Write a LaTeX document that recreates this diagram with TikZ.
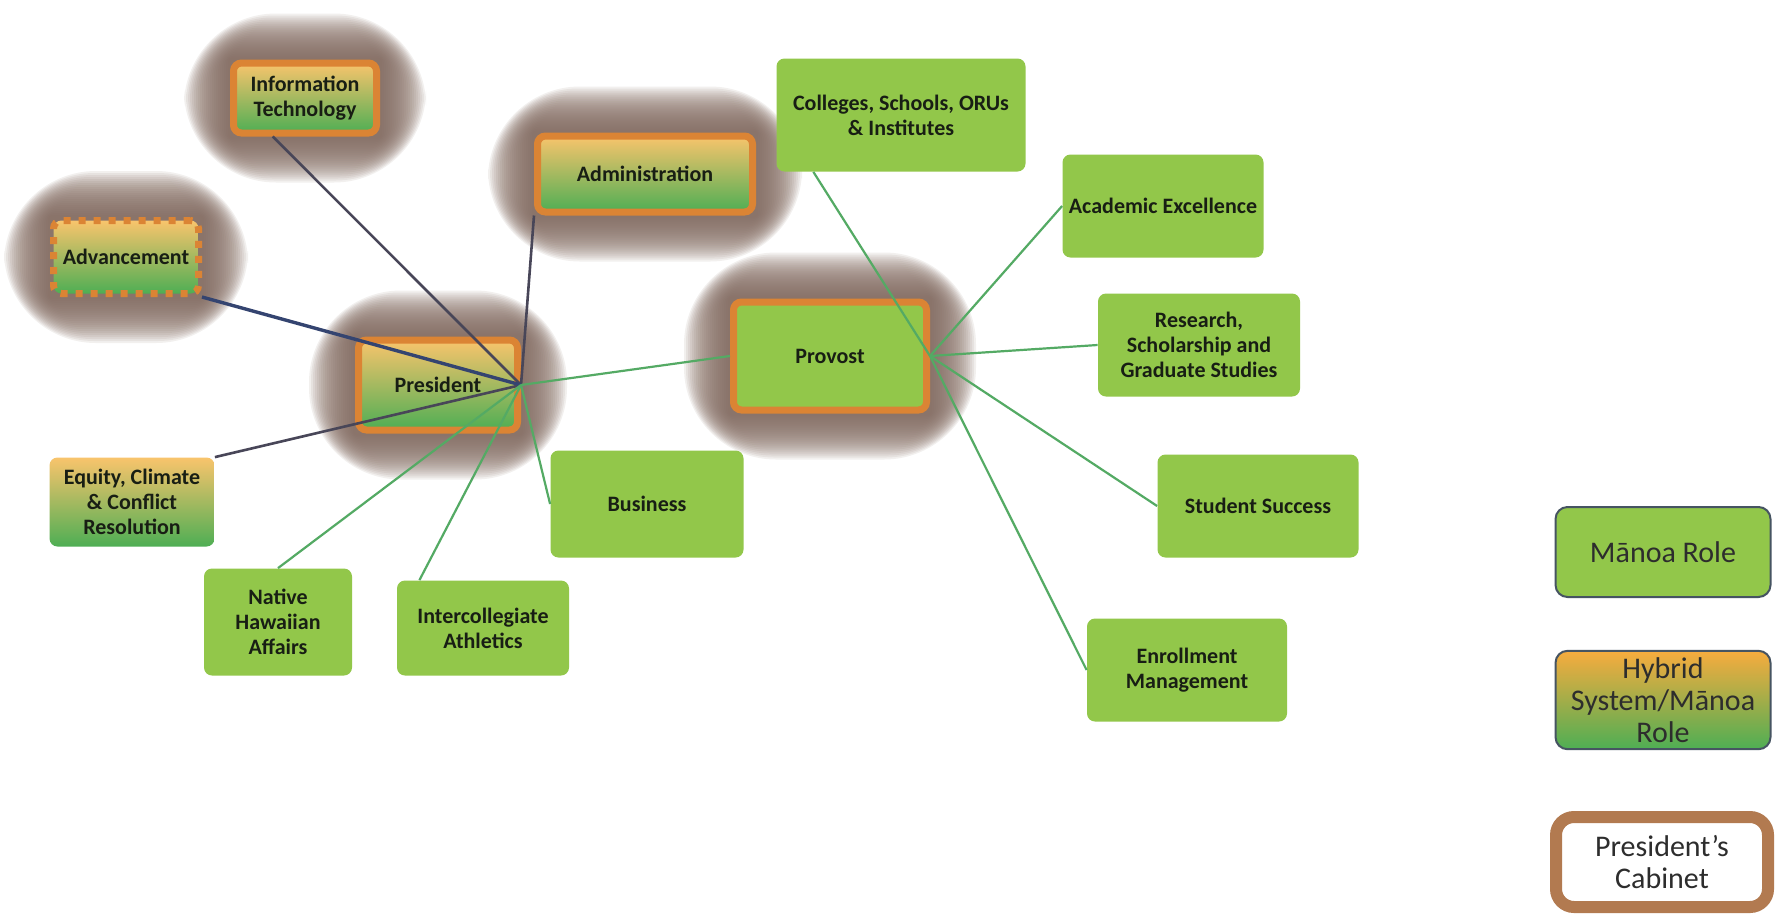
\documentclass[tikz,border=0pt]{standalone}
\usepackage{fontspec}
\setmainfont{Carlito}
\usetikzlibrary{backgrounds,calc}

\definecolor{manoa}{RGB}{146,199,74}
\definecolor{hyTop}{RGB}{249,196,108}
\definecolor{hyMid}{RGB}{206,196,96}
\definecolor{hyBot}{RGB}{78,174,84}
\definecolor{keyTop}{RGB}{247,172,62}
\definecolor{keyMid}{RGB}{190,170,80}
\definecolor{cabOrange}{RGB}{219,132,52}
\definecolor{glowBrown}{RGB}{132,108,98}
\definecolor{linkGray}{RGB}{72,70,88}
\definecolor{linkBlue}{RGB}{52,68,112}
\definecolor{linkGreen}{RGB}{84,170,100}
\definecolor{ink}{RGB}{24,30,20}
\definecolor{keyEdge}{RGB}{70,84,98}
\definecolor{keyInk}{RGB}{45,45,45}
\definecolor{keyBrown}{RGB}{178,122,80}

\begin{document}
\begin{tikzpicture}[x=0.5pt,y=-0.5pt,
    box/.style={rectangle,rounded corners=4pt,inner sep=2pt,align=center,text=ink,
      font=\bfseries\fontsize{11}{12.5}\selectfont},
    role/.style={box,fill=manoa},
    hybrid/.style={box,top color=hyTop,middle color=hyMid,bottom color=hyBot},
    cab/.style={draw=cabOrange,line width=3.5pt},
    glow/.style={fill=glowBrown,fill opacity=0.1},
    plink/.style={draw=linkGray,line width=1.3pt},
    glink/.style={draw=linkGreen,line width=1.1pt},
    legend/.style={rectangle,rounded corners=6pt,draw=keyEdge,line width=1pt,align=center,
      text=keyInk,font=\fontsize{15}{16}\selectfont,minimum width=107.5pt}]
  \useasboundingbox (0,0) rectangle (1775,916);

  \node[hybrid,cab,minimum width=71.5pt,minimum height=35pt] (it) at (305,98) {Information\\Technology};
  \node[hybrid,cab,minimum width=107.5pt,minimum height=38pt] (adm) at (645,174) {Administration};
  \node[hybrid,cab,dash pattern=on 3.5pt off 4pt,minimum width=72.5pt,minimum height=36.5pt] (adv) at (126,257) {Advancement};
  \node[hybrid,cab,minimum width=79.5pt,minimum height=45pt] (pres) at (438,385) {President};
  \node[role,cab,minimum width=96.5pt,minimum height=54pt] (prov) at (830,356) {Provost};

  \node[hybrid,minimum width=82.5pt,minimum height=44.5pt] (eq) at (132,502) {Equity, Climate\\\& Conflict\\Resolution};
  \node[role,minimum width=74pt,minimum height=53.5pt] (nat) at (278,622) {Native\\Hawaiian\\Affairs};
  \node[role,minimum width=86pt,minimum height=47.5pt] (ica) at (483,628) {Intercollegiate\\Athletics};
  \node[role,minimum width=96.5pt,minimum height=53.5pt] (bus) at (647,504) {Business};

  \node[role,minimum width=124.5pt,minimum height=56.5pt] (col) at (901,115) {Colleges, Schools, ORUs\\\& Institutes};
  \node[role,minimum width=100.5pt,minimum height=51.5pt] (acad) at (1163,206) {Academic Excellence};
  \node[role,minimum width=101pt,minimum height=51.5pt] (res) at (1199,345) {Research,\\Scholarship and\\Graduate Studies};
  \node[role,minimum width=100.5pt,minimum height=51.5pt] (ss) at (1258,506) {Student Success};
  \node[role,minimum width=100pt,minimum height=51.5pt] (enr) at (1187,670) {Enrollment\\Management};

  \node[legend,fill=manoa,minimum height=45pt] (keyrole) at (1663,552) {Mānoa Role};
  \node[legend,top color=keyTop,middle color=keyMid,bottom color=hyBot,minimum height=47pt] (keyhybrid) at (1663,700) {Hybrid\\System/Mānoa\\Role};
  \node[legend,draw=keyBrown,line width=6pt,rounded corners=9pt,fill=white,
    minimum width=106pt,minimum height=45pt] (keycab) at (1662,862) {President’s\\Cabinet};

  \begin{scope}[on background layer]
    \fill[white] (0,0) rectangle (1775,916);
    \foreach \n in {it,adm,adv,pres,prov}
      \foreach \d [evaluate=\d as \r using \d/4+4] in {2,4,...,46}
        \fill[glow,rounded corners={\r pt}] ([shift={(-\d,\d)}]\n.south west) rectangle ([shift={(\d,-\d)}]\n.north east);
  \end{scope}

  \path[plink]
    (pres.east) edge (it.230)
    (pres.east) edge (adm.south west)
    (pres.east) edge (eq.north east);
  \path[plink,draw=linkBlue,line width=1.7pt]
    (pres.east) edge (adv.south east);
  \path[glink]
    (pres.east) edge (prov.west)
    (pres.east) edge (bus.west)
    (pres.east) edge (nat.north)
    (pres.east) edge (ica.143)
    (prov.east) edge (col.213)
    (prov.east) edge (acad.west)
    (prov.east) edge (res.west)
    (prov.east) edge (ss.west)
    (prov.east) edge (enr.west);
\end{tikzpicture}
\end{document}
